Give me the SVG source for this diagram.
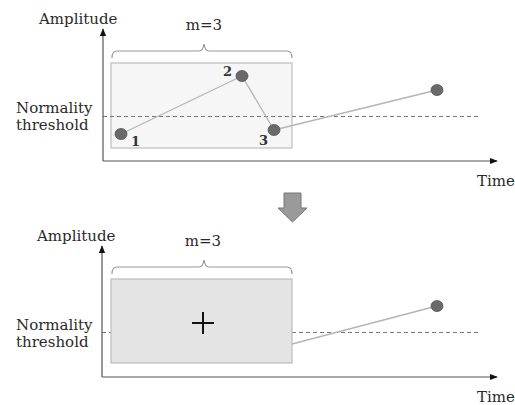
<svg xmlns="http://www.w3.org/2000/svg" width="515" height="405" viewBox="0 0 515 405">
<defs>
<style>
.t{font-family:"DejaVu Serif","Liberation Serif",serif;font-size:15px;fill:#2a2a2a}
.n{font-family:"DejaVu Serif","Liberation Serif",serif;font-size:13px;font-weight:bold;fill:#333}
.ax{stroke:#555;stroke-width:1.2;fill:none}
.dash{stroke:#777;stroke-width:1;stroke-dasharray:4,3;fill:none}
.seg{stroke:#b5b5b5;stroke-width:1.3;fill:none}
.pt{fill:#6a6a6a;stroke:#555;stroke-width:0.8}
.brace{stroke:#999;stroke-width:1.2;fill:none}
</style>
<marker id="ah" viewBox="0 0 10 10" refX="9" refY="5" markerWidth="8" markerHeight="8" markerUnits="userSpaceOnUse" orient="auto">
<path d="M0,1 L10,5 L0,9 z" fill="#111"/>
</marker>
</defs>
<rect width="515" height="405" fill="#fff"/>

<g id="top-panel">
<g id="top-window">
<rect x="111" y="63" width="181" height="85" fill="#f6f6f6" stroke="#bdbdbd" stroke-width="1.2"/>
<path class="brace" d="M112,58 Q112,51 117,51 L199,51 Q203,51 204,44 Q205,51 209,51 L287,51 Q292,51 292,58"/>
<text class="t" x="204" y="30" text-anchor="middle">m=3</text>
</g>
<g id="top-axes">
<line class="dash" x1="103" y1="116.5" x2="481" y2="116.5"/>
<line class="ax" x1="103" y1="161" x2="103" y2="29" marker-end="url(#ah)"/>
<line class="ax" x1="103" y1="161" x2="497" y2="161" marker-end="url(#ah)"/>
<text class="t" x="39" y="24">Amplitude</text>
<text class="t" x="16" y="113">Normality</text>
<text class="t" x="16" y="130">threshold</text>
<text class="t" x="477" y="186">Time</text>
</g>
<g id="top-connectors">
<line class="seg" x1="121" y1="134" x2="242" y2="76"/>
<line class="seg" x1="242" y1="76" x2="274" y2="130"/>
<line class="seg" x1="274" y1="130" x2="437" y2="90"/>
</g>
<g id="p1"><ellipse class="pt" cx="121" cy="134" rx="6" ry="5.5"/><text class="n" x="131" y="146">1</text></g>
<g id="p2"><ellipse class="pt" cx="242" cy="76" rx="6" ry="5.5"/><text class="n" x="223" y="76">2</text></g>
<g id="p3"><ellipse class="pt" cx="274" cy="130" rx="6" ry="5.5"/><text class="n" x="259" y="145">3</text></g>
<g id="p4"><ellipse class="pt" cx="437" cy="90" rx="6" ry="5.5"/></g>
</g>

<g id="down-arrow">
<path d="M284,193 L301,193 L301,208 L307,208 L292.5,222 L278,208 L284,208 z" fill="#9a9a9a" stroke="#777" stroke-width="1"/>
</g>

<g id="bottom-panel">
<g id="bottom-axes">
<line class="dash" x1="102" y1="332.5" x2="111" y2="332.5"/>
<line class="dash" x1="292" y1="332.5" x2="481" y2="332.5"/>
<line class="ax" x1="102" y1="377" x2="102" y2="246" marker-end="url(#ah)"/>
<line class="ax" x1="102" y1="377" x2="497" y2="377" marker-end="url(#ah)"/>
<text class="t" x="37" y="241">Amplitude</text>
<text class="t" x="16" y="330">Normality</text>
<text class="t" x="16" y="347">threshold</text>
<text class="t" x="477" y="402">Time</text>
</g>
<g id="bottom-window">
<rect x="111" y="279" width="181" height="84" fill="#e4e4e4" stroke="#bdbdbd" stroke-width="1.2"/>
<path class="brace" d="M112,274 Q112,267 117,267 L199,267 Q203,267 204,260 Q205,267 209,267 L287,267 Q292,267 292,274"/>
<text class="t" x="203" y="246" text-anchor="middle">m=3</text>
<path d="M192,323 L214,323 M203,312 L203,334" stroke="#111" stroke-width="2"/>
</g>
<g id="bottom-connectors">
<line class="seg" x1="292" y1="344" x2="437" y2="306"/>
</g>
<g id="p5"><ellipse class="pt" cx="437" cy="306" rx="6" ry="5.5"/></g>
</g>
</svg>
